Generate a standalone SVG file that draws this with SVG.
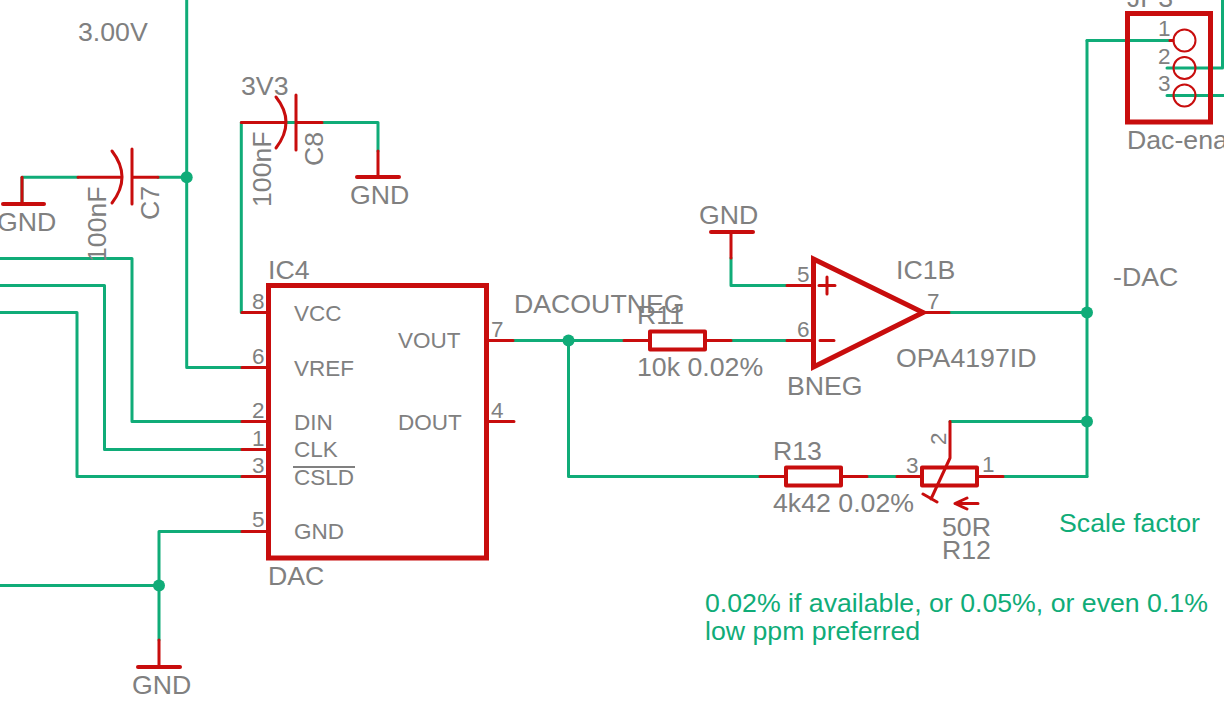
<svg xmlns="http://www.w3.org/2000/svg" width="1224" height="725" viewBox="0 0 1224 725">
<style>
text{font-family:"Liberation Sans",Arial,sans-serif;fill:#808080;font-size:26.7px}
.p{font-size:22.5px}
.n{font-size:22.5px}
.g{fill:#10ac78}
.w{fill:none;stroke:#10ac78;stroke-width:3;stroke-linecap:round;stroke-linejoin:round}
.r{fill:none;stroke:#c80d0d;stroke-width:3;stroke-linecap:round;stroke-linejoin:round}
.c{fill:none;stroke:#c80d0d;stroke-width:2}
.b{fill:none;stroke:#c80d0d;stroke-width:5;stroke-linecap:round;stroke-linejoin:miter}
.gb{fill:none;stroke:#c80d0d;stroke-width:4;stroke-linecap:round}
.body{fill:none;stroke:#c80d0d;stroke-width:4;stroke-linejoin:round}
.j{fill:#10ac78}
</style>
<rect width="1224" height="725" fill="#fff"/>
<g id="connectors" class="w">
<path d="M186.700 0V367.500H242"/>
<path d="M22 204V177.300H78M158 177.300H186.700"/>
<path d="M296 122.500H241.300V312.500H242M322 122.500H378V151"/>
<path d="M0 258.500H132V421.500H242"/>
<path d="M0 285.500H104.500V449.500H242"/>
<path d="M0 312.500H77V476.500H242"/>
<path d="M0 585.500H159M242 531.500H159V640"/>
<path d="M513 340.500H624M705 340.500H787M731 258V285.500H787"/>
<path d="M568.500 340.500V476.500H760M867 476.500H897M1003 476.500H1087"/>
<path d="M949 312.500H1087M1087 40.500V476.500M950 421.600H1087"/>
<path d="M1087 40.500H1170M1167 68H1222.500V0M1167 95.500H1224"/>
<circle class="j" cx="186.700" cy="177.300" r="6" stroke="none"/>
<circle class="j" cx="159" cy="585.500" r="6" stroke="none"/>
<circle class="j" cx="568.500" cy="340.500" r="6" stroke="none"/>
<circle class="j" cx="1087" cy="312.500" r="6" stroke="none"/>
<circle class="j" cx="1087" cy="421.600" r="6" stroke="none"/>
</g>
<g id="label-3v00"><text x="78" y="41">3.00V</text></g>
<g id="gnd1"><path class="r" d="M22 177.300V204"/><path class="gb" d="M3 204H44"/><text x="-3" y="231">GND</text></g>
<g id="C7"><path class="r" d="M78 177.300H120M132 177.300H158M132 149V204"/><path class="r" d="M112 151Q132 177 112 203"/><text transform="translate(159 220) rotate(-90)">C7</text><text transform="translate(106 262) rotate(-90)">100nF</text></g>
<g id="C8"><text x="241" y="95">3V3</text><path class="r" d="M241.300 122.500H285M296 122.500H322M296 95V150"/><path class="r" d="M276 97Q296 122 276 148"/><text transform="translate(323 166) rotate(-90)">C8</text><text transform="translate(271 207) rotate(-90)">100nF</text></g>
<g id="gnd2"><path class="r" d="M378 151V177"/><path class="gb" d="M357 177H399"/><text x="350" y="204">GND</text></g>
<g id="gnd4"><path class="r" d="M159 640V667"/><path class="gb" d="M138 667H180"/><text x="132" y="694">GND</text></g>
<g id="IC4">
<rect class="b" x="268.500" y="285.500" width="218" height="272.500"/>
<path class="r" d="M242 312.500H268M242 367.500H268M242 421.500H268M242 449.500H268M242 476.500H268M242 531.500H268M487 340.500H513M487 421.500H514"/>
<text x="268" y="279">IC4</text><text x="268" y="585">DAC</text>
<g>
<text class="p" x="252" y="309">8</text><text class="p" x="252" y="364">6</text><text class="p" x="252" y="418">2</text><text class="p" x="252" y="446">1</text><text class="p" x="252" y="473">3</text><text class="p" x="252" y="527">5</text><text class="p" x="491" y="337">7</text><text class="p" x="491" y="418">4</text>
<text class="n" x="294" y="321">VCC</text><text class="n" x="294" y="376">VREF</text><text class="n" x="294" y="430">DIN</text><text class="n" x="294" y="457">CLK</text><text class="n" x="294" y="485">CSLD</text><text class="n" x="294" y="539">GND</text><text class="n" x="398" y="348">VOUT</text><text class="n" x="398" y="430">DOUT</text>
</g>
<path d="M293 467H355" stroke="#808080" stroke-width="2" fill="none"/>
</g>
<g id="label-dacoutneg"><text x="514" y="313">DACOUTNEG</text></g>
<g id="R11"><path class="r" d="M624 340.500H650M705 340.500H731"/><rect class="body" x="650" y="331.500" width="55" height="18"/><text x="637" y="324">R11</text><text x="637" y="376">10k 0.02%</text></g>
<g id="gnd3"><path class="r" d="M731 232V258"/><path class="gb" d="M711 232H753"/><text x="699" y="224">GND</text></g>
<g id="IC1B">
<path class="b" d="M813.500 259V367L923 312.500Z"/>
<path class="r" d="M787 285.500H813M787 340.500H813M923 312.500H949M819 285.500H835M827 277V294M820 340.500H834"/>
<text class="p" x="797" y="282">5</text><text class="p" x="797" y="337">6</text><text class="p" x="927" y="309">7</text>
<text x="896" y="279">IC1B</text><text x="896" y="367">OPA4197ID</text><text x="787" y="395">BNEG</text>
</g>
<g id="label-dac"><text x="1113" y="286">-DAC</text></g>
<g id="R13"><path class="r" d="M760 476.500H786M841 476.500H867"/><rect class="body" x="786" y="467.500" width="55" height="18"/><text x="773" y="460">R13</text><text x="773" y="512">4k42 0.02%</text></g>
<g id="R12"><path class="r" d="M897 476.500H922M977 476.500H1003M950 421.600V458L931 499M923 494L937 502M978 503.500H955M967 498L955 503.500L967 509"/><rect class="body" x="922" y="467.500" width="55" height="18"/><text class="p" x="906" y="473">3</text><text class="p" x="982" y="472">1</text><text class="p" transform="translate(946 445) rotate(-90)">2</text><text x="942" y="536">50R</text><text x="942" y="559">R12</text></g>
<g id="JP3">
<rect x="1127.500" y="13.500" width="83" height="108.500" fill="none" stroke="#c80d0d" stroke-width="5"/>
<circle class="c" cx="1184.500" cy="40.500" r="11"/><circle class="c" cx="1184.500" cy="68" r="11"/><circle class="c" cx="1184.500" cy="95.500" r="11"/>
<path class="r" d="M1170 40.500H1173"/>
<text class="p" x="1158" y="36">1</text><text class="p" x="1158" y="64">2</text><text class="p" x="1158" y="91">3</text>
<text x="1127" y="7">JP3</text><text x="1127" y="149">Dac-enable</text>
</g>
<g id="notes"><text class="g" x="1059" y="532">Scale factor</text><text class="g" x="705" y="612">0.02% if available, or 0.05%, or even 0.1%</text><text class="g" x="705" y="640">low ppm preferred</text></g>
</svg>
